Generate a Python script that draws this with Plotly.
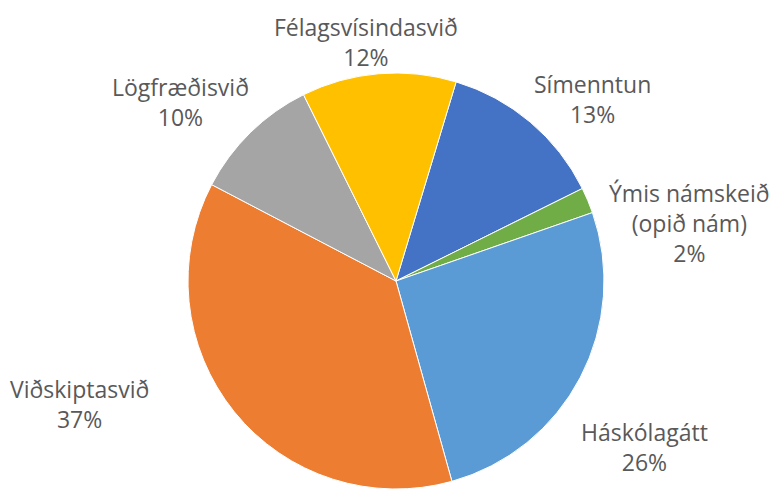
import plotly.graph_objects as go

# Data (clockwise order, starting from the Símenntun slice)
labels = ["Símenntun", "Ýmis námskeið (opið nám)", "Háskólagátt",
          "Viðskiptasvið", "Lögfræðisvið", "Félagsvísindasvið"]
label_text = ["Símenntun", "Ýmis námskeið<br>(opið nám)", "Háskólagátt",
              "Viðskiptasvið", "Lögfræðisvið", "Félagsvísindasvið"]
values = [13, 2, 26, 37, 10, 12]

# Styles
colors = ["#4472C4", "#70AD47", "#5B9BD5", "#ED7D31", "#A5A5A5", "#FFC000"]
W, H = 772, 489
# label centres in pixels (layout only)
label_px = [(592, 99), (689, 223), (644, 447), (79, 404), (180, 102), (366, 42)]

total = sum(values)
fig = go.Figure(go.Pie(
    labels=labels,
    values=values,
    sort=False,
    direction="clockwise",
    rotation=16.8,
    marker=dict(colors=colors, line=dict(color="white", width=1)),
    textinfo="none",
    hoverinfo="label+percent",
    showlegend=False,
    domain=dict(x=[186 / W, 606 / W], y=[0, (H - 73) / H]),
))

annotations = []
for txt, v, (px, py) in zip(label_text, values, label_px):
    pct = round(100 * v / total)
    annotations.append(dict(
        x=px / W, y=1 - py / H, xref="paper", yref="paper",
        text=f"{txt}<br>{pct}%", showarrow=False,
        xanchor="center", yanchor="middle", align="center",
        font=dict(family="Open Sans", size=23, color="#595959"),
    ))

fig.update_layout(
    width=W, height=H,
    margin=dict(l=0, r=0, t=0, b=0),
    paper_bgcolor="white",
    annotations=annotations,
)

fig.write_html("out.html", config={"displayModeBar": False},
               post_script="document.body.style.margin='0px';")
